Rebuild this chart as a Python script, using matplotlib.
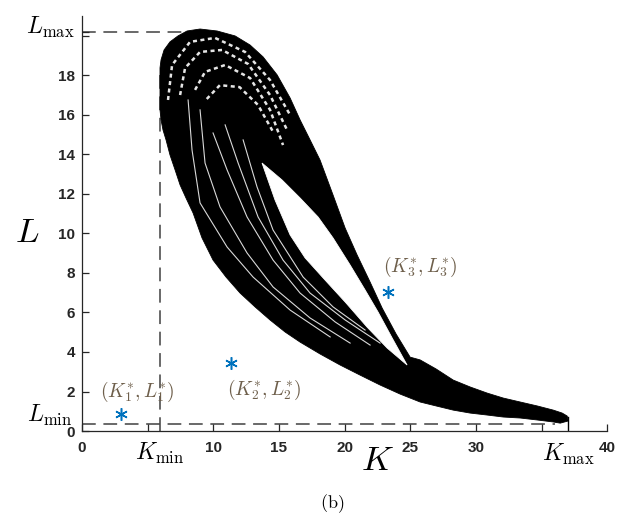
import matplotlib
matplotlib.use("Agg")
import matplotlib.pyplot as plt

plt.rcParams['mathtext.fontset'] = 'cm'
plt.rcParams['font.family'] = ['Liberation Sans', 'DejaVu Sans']

# ---- data ----
K_min, K_max = 5.94, 37.0
L_min, L_max = 0.37, 20.2

# outer boundary of the attractor band
outer_K = [10.29, 11.66, 12.8, 13.79, 14.86, 15.85, 16.61, 17.37, 18.13, 19.12, 20.04, 20.95,
           21.94, 22.86, 23.92, 24.99, 25.75, 26.97, 28.27, 29.56, 30.86, 32.08,
           33.37, 34.67, 35.89, 36.57, 36.95, 37.03,
           36.42, 35.89, 34.67, 33.37, 32.08, 30.86, 29.56, 28.27, 26.97, 25.75, 24.23,
           22.7, 21.18, 19.66, 18.13, 16.61, 15.47, 14.32, 13.18, 12.04, 10.97, 9.98,
           9.14, 8.46, 7.92, 7.47, 7.09, 6.7, 6.4, 6.17, 6.02, 5.94,
           5.94, 6.02, 6.25, 6.7, 7.31, 8.0, 8.99]
outer_L = [20.24, 19.99, 19.53, 18.93, 18.02, 16.85, 15.74, 14.73, 13.71, 11.94, 10.27, 8.91,
           7.54, 6.22, 4.91, 3.74, 3.6, 3.14, 2.58, 2.23, 1.92, 1.67,
           1.47, 1.27, 1.06, 0.91, 0.76, 0.51,
           0.40, 0.46, 0.56, 0.66, 0.71, 0.81, 0.91, 1.06, 1.27, 1.47, 1.87,
           2.33, 2.83, 3.34, 3.9, 4.5, 5.01, 5.62, 6.28, 6.98, 7.79, 8.65,
           9.77, 11.03, 11.79, 12.45, 13.21, 13.97, 14.73, 15.23, 15.74, 16.25,
           18.37, 18.78, 19.28, 19.69, 19.99, 20.24, 20.34]

# inner hole of the band
hole_K = [13.71, 15.24, 16.61, 17.98, 19.12, 20.42, 21.56, 22.55, 23.62, 24.76,
          23.24, 21.71, 20.04, 18.51, 16.99, 15.85, 14.7]
hole_L = [13.56, 12.70, 11.79, 10.83, 9.77, 8.40, 7.14, 6.02, 4.71, 3.34,
          4.2, 5.26, 6.53, 7.64, 8.76, 9.92, 11.69]

# light streaks inside the left band
streaks = [
    ([12.27, 13.33, 14.55, 16.84, 19.12, 21.56], [14.73, 12.35, 10.17, 7.79, 6.28, 5.11]),
    ([10.90, 11.89, 13.41, 15.31, 17.37, 20.04, 22.70], [15.49, 13.56, 10.83, 8.65, 6.98, 5.62, 4.45]),
    ([9.98, 11.05, 12.57, 14.55, 16.61, 19.28, 21.94], [15.08, 13.21, 10.83, 8.65, 6.98, 5.52, 4.35]),
    ([8.99, 9.37, 10.51, 12.57, 14.55, 17.37, 20.42], [16.25, 13.56, 11.34, 9.01, 7.29, 5.72, 4.45]),
    ([8.08, 8.38, 8.99, 11.05, 13.03, 15.85, 18.9], [16.75, 14.22, 11.54, 9.31, 7.79, 6.12, 4.76]),
]
# light mesh in the upper dome
dome_arcs = [
    ([6.55, 6.86, 8.23, 10.13, 12.42, 14.32, 15.85], [16.75, 18.52, 19.69, 19.89, 19.18, 17.76, 15.99]),
    ([7.47, 7.85, 8.99, 10.67, 12.65, 14.32, 15.62], [17.0, 18.37, 19.18, 19.28, 18.57, 17.0, 15.23]),
    ([8.61, 9.37, 10.9, 12.8, 14.32, 15.31], [17.26, 18.17, 18.52, 17.86, 16.25, 14.47]),
    ([9.5, 10.5, 12.0, 13.4, 14.5], [16.8, 17.5, 17.4, 16.5, 15.2]),
]

# equilibria
eq_K = [2.97, 11.35, 23.3]
eq_L = [0.86, 3.44, 7.03]
eq_labels = [r'$(K_1^{*},L_1^{*})$', r'$(K_2^{*},L_2^{*})$', r'$(K_3^{*},L_3^{*})$']
eq_label_K = [4.19, 13.87, 25.75]
eq_label_L = [1.97, 2.07, 8.3]

x_ticks = [0, 5, 10, 15, 20, 25, 30, 35, 40]
x_ticklabels = ['0', '', '10', '15', '20', '25', '30', '', '40']
y_ticks = [0, 2, 4, 6, 8, 10, 12, 14, 16, 18, 20]
y_ticklabels = ['0', '2', '4', '6', '8', '10', '12', '14', '16', '18', '']

# ---- figure ----
fig = plt.figure(figsize=(6.26, 5.15), dpi=100)
ax = fig.add_axes([0.131, 0.163, 0.839, 0.806])

dash = (0, (9, 5))
dcol = '#404040'
ax.plot([0, 9.0], [L_max, L_max], color=dcol, lw=1.1, linestyle=dash, zorder=1)
ax.plot([0, 36.0], [L_min, L_min], color=dcol, lw=1.1, linestyle=dash, zorder=1)
ax.plot([K_min, K_min], [0, 18.0], color=dcol, lw=1.1, linestyle=dash, zorder=1)
ax.plot([K_max, K_max], [0, 0.7], color='black', lw=1.0, zorder=1)

ax.fill(outer_K, outer_L, color='black', lw=0.6, zorder=2)
ax.fill(hole_K, hole_L, color='white', lw=0.6, zorder=3)
for sk, sl in streaks:
    ax.plot(sk, sl, color='white', lw=0.8, alpha=0.85, zorder=4)
for ak, al in dome_arcs:
    ax.plot(ak, al, color='white', lw=1.8, alpha=0.9, linestyle=(0, (1.6, 1.4)), zorder=4)

ax.plot(eq_K, eq_L, linestyle='none', marker=(6, 2, 0), markersize=9,
        markeredgewidth=1.1, color='#0072BD', zorder=5)
for t, xk, yl in zip(eq_labels, eq_label_K, eq_label_L):
    ax.text(xk, yl, t, fontsize=14, color='#6e5f4b', ha='center', va='center', zorder=6)

ax.set_xlim(0, 40)
ax.set_ylim(0, 21)
for s in ['top', 'right']:
    ax.spines[s].set_visible(False)
for s in ['left', 'bottom']:
    ax.spines[s].set_linewidth(0.9)
    ax.spines[s].set_color('#262626')
ax.set_xticks(x_ticks)
ax.set_xticklabels(x_ticklabels)
ax.set_yticks(y_ticks)
ax.set_yticklabels(y_ticklabels)
ax.set_yticks([L_max], minor=True)
ax.tick_params(axis='both', which='both', direction='in', length=5, width=0.9,
               labelsize=11, colors='#262626')
ax.tick_params(axis='x', pad=7)
ax.tick_params(axis='y', pad=5)
for lab in ax.get_xticklabels() + ax.get_yticklabels():
    lab.set_fontweight('bold')

ax.text(-0.6, 20.4, r'$L_{\max}$', fontsize=17, ha='right', va='center', clip_on=False)
ax.text(-0.75, 0.8, r'$L_{\min}$', fontsize=17, ha='right', va='center', clip_on=False)
ax.text(K_min, -1.15, r'$K_{\min}$', fontsize=17, ha='center', va='center', clip_on=False)
ax.text(K_max, -1.2, r'$K_{\max}$', fontsize=17, ha='center', va='center', clip_on=False)
ax.text(-4.2, 10.07, r'$L$', fontsize=25, ha='center', va='center', clip_on=False)
ax.text(22.5, -1.5, r'$K$', fontsize=25, ha='center', va='center', clip_on=False)
fig.text(0.530, 0.023, r'$\mathrm{(b)}$', fontsize=13, ha='center', va='center')

fig.savefig('out.png', dpi=100, facecolor='white')
